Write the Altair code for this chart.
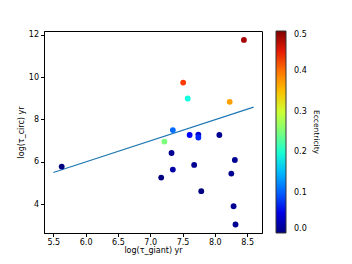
import altair as alt
import pandas as pd

tau_giant = [5.63, 7.17, 7.33, 7.35, 7.22, 7.35, 7.51, 7.58, 8.23, 8.45,
             7.61, 7.745, 7.745, 8.07, 7.68, 8.31, 8.255, 7.79, 8.29, 8.32]
tau_circ = [5.78, 5.26, 6.42, 5.64, 6.96, 7.50, 9.74, 8.99, 8.83, 11.75,
            7.27, 7.29, 7.15, 7.27, 5.86, 6.09, 5.45, 4.62, 3.91, 3.05]
ecc = [0.0, 0.0, 0.01, 0.02, 0.25, 0.11, 0.43, 0.19, 0.37, 0.48,
       0.06, 0.04, 0.07, 0.01, 0.01, 0.01, 0.01, 0.0, 0.01, 0.01]

fit_x = [5.5, 8.6]
fit_y = [5.5, 8.58]

x_ticks = [5.5, 6.0, 6.5, 7.0, 7.5, 8.0, 8.5]
y_ticks = [4, 6, 8, 10, 12]
cbar_ticks = [0.0, 0.1, 0.2, 0.3, 0.4, 0.5]

jet = ["#000080", "#0000ff", "#0080ff", "#15ffe2", "#7bff7b",
       "#e2ff15", "#ff9700", "#ff2100", "#800000"]
jet_domain = [i * 0.5 / 8 for i in range(9)]

pts = pd.DataFrame({"tg": tau_giant, "tc": tau_circ, "e": ecc})
fit = pd.DataFrame({"tg": fit_x, "tc": fit_y})

xs = alt.Scale(domain=[5.356, 8.73], nice=False, zero=False)
ys = alt.Scale(domain=[2.65, 12.17], nice=False, zero=False)

xax = alt.Axis(values=x_ticks, title="log(τ_giant) yr", format=".1f",
               grid=False, titlePadding=0, labelPadding=1.5)
yax = alt.Axis(values=y_ticks, title="log(τ_circ) yr", format="d",
               grid=False, titlePadding=3)

line = alt.Chart(fit).mark_line(color="#1f77b4", strokeWidth=1.2).encode(
    x=alt.X("tg:Q", scale=xs, axis=xax),
    y=alt.Y("tc:Q", scale=ys, axis=yax),
)

points = alt.Chart(pts).mark_circle(size=34, opacity=1).encode(
    x=alt.X("tg:Q", scale=xs, axis=xax),
    y=alt.Y("tc:Q", scale=ys, axis=yax),
    color=alt.Color(
        "e:Q",
        scale=alt.Scale(domain=jet_domain, range=jet),
        legend=alt.Legend(
            title="Eccentricity",
            values=cbar_ticks,
            format=".1f",
            gradientLength=202,
            gradientThickness=10,
            gradientStrokeColor="#333",
            gradientStrokeWidth=1,
            titleOrient="right",
            titleAnchor="middle",
            titleFontWeight="normal",
            titleFontSize=7.5,
            titleFont="DejaVu Sans",
            titleColor="black",
            titlePadding=5,
            labelFontSize=8,
            labelFont="DejaVu Sans",
            labelOffset=8,
            labelColor="black",
            offset=14,
            padding=0,
        ),
    ),
)

chart = alt.layer(line, points).properties(
    width=218,
    height=202,
    autosize=alt.AutoSizeParams(type="none"),
    padding={"left": 36, "top": 23, "right": 82, "bottom": 23},
).configure_view(
    stroke="black", strokeWidth=1
).configure_axis(
    labelFont="DejaVu Sans",
    titleFont="DejaVu Sans",
    labelFontSize=8,
    titleFontSize=8,
    titleFontWeight="normal",
    labelColor="black",
    titleColor="black",
    tickColor="black",
    domainColor="black",
    tickSize=3.5,
    labelPadding=2,
)

chart.save("out.html", embed_options={"renderer": "svg", "actions": False})
